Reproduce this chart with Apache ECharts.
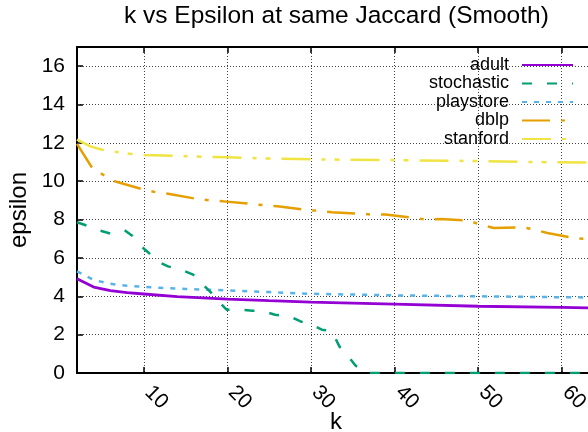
<!DOCTYPE html>
<html>
<head>
<meta charset="utf-8">
<script src="https://cdn.jsdelivr.net/npm/echarts@6/dist/echarts.min.js"></script>
<style>html,body{margin:0;padding:0;background:#fff;}#c{width:588px;height:432px;}</style>
</head>
<body>
<div id="c"></div>
<script>
var seriesNames = ['adult', 'stochastic', 'playstore', 'dblp', 'stanford'];

var adultK = [2, 4, 6, 8, 10, 14, 20, 25, 30, 40, 50, 60, 64];
var adultV = [4.92, 4.48, 4.3, 4.19, 4.12, 3.98, 3.85, 3.77, 3.70, 3.59, 3.48, 3.42, 3.39];

var stochK = [2, 3.2, 4.8, 6, 7.7, 8.6, 9.7, 10.5, 11.7, 12.9, 14.7, 15.9, 17.1, 17.9, 19.1, 19.9, 21.5, 23, 24.5, 25.7, 27.5, 28.7, 30.3, 31.3, 32.5, 33.4, 34.6, 35.3, 36.5, 64];
var stochV = [7.86, 7.68, 7.42, 7.27, 7.45, 7.16, 6.6, 6.3, 5.8, 5.56, 5.34, 5.13, 4.6, 4.26, 3.67, 3.3, 3.3, 3.25, 3.2, 3.04, 2.95, 2.7, 2.47, 2.26, 2.2, 1.39, 0.8, 0.4, 0, 0];

var playK = [2, 4, 6, 8, 10, 15, 20, 25, 30, 40, 50, 60, 64];
var playV = [5.3, 4.85, 4.65, 4.55, 4.49, 4.38, 4.31, 4.22, 4.13, 4.05, 4.0, 3.95, 3.94];

var dblpK = [2, 3.95, 5.1, 6.5, 10, 11.5, 12.9, 16.3, 17.9, 19.5, 22.9, 24.5, 26, 29.9, 30.9, 32.5, 35.9, 37.3, 38.9, 42.5, 43.9, 45.5, 48.7, 50.3, 51.9, 55.3, 56.7, 58.3, 61.5, 63, 64];
var dblpV = [11.95, 10.6, 10.35, 10.0, 9.56, 9.42, 9.35, 9.08, 9.0, 8.95, 8.82, 8.74, 8.69, 8.48, 8.47, 8.38, 8.31, 8.26, 8.26, 8.08, 8.0, 8.03, 7.96, 7.74, 7.56, 7.6, 7.48, 7.3, 7.04, 6.99, 6.97];

var stanK = [2, 3.6, 5, 6.95, 8.5, 10, 15.3, 20, 23.5, 30, 40, 48.5, 56.9, 64];
var stanV = [12.17, 11.82, 11.64, 11.51, 11.42, 11.37, 11.3, 11.25, 11.2, 11.14, 11.1, 11.06, 11.0, 10.98];

var titleText = 'k vs Epsilon at same Jaccard (Smooth)';
var xName = 'k';
var yName = 'epsilon';

function pairs(ks, vs) { return ks.map(function (k, i) { return [k, vs[i]]; }); }

var colors = ['#9400d3', '#009e73', '#56b4e9', '#e69f00', '#f0e442'];
var dashes = ['solid', [10, 15], [5, 7], [28, 11, 4, 11], [29, 11, 4, 9, 5, 11]];
var widths = [2.8, 2.5, 2.5, 2.5, 2.5];
var dataSets = [pairs(adultK, adultV), pairs(stochK, stochV), pairs(playK, playV), pairs(dblpK, dblpV), pairs(stanK, stanV)];

var FONT = 'Liberation Sans, Arial, sans-serif';

var chart = echarts.init(document.getElementById('c'), null, { renderer: 'canvas' });
chart.setOption({
  animation: false,
  backgroundColor: '#ffffff',
  title: {
    text: titleText,
    left: 119,
    top: -1,
    textStyle: { fontFamily: FONT, fontSize: 24.5, fontWeight: 'normal', color: '#000' }
  },
  legend: {
    orient: 'vertical',
    right: 9,
    top: 51,
    align: 'right',
    itemWidth: 51,
    itemHeight: 14,
    itemGap: 0.5,
    itemStyle: { color: 'rgba(0,0,0,0)', borderWidth: 0, opacity: 0 },
    textStyle: { fontFamily: FONT, fontSize: 18, color: '#000', lineHeight: 18, padding: [0, 8, 0, 0] },
    data: seriesNames
  },
  grid: { left: 77, top: 47, width: 518, height: 326, containLabel: false, outerBoundsMode: 'none' },
  xAxis: [{
    type: 'value',
    min: 2, max: 64,
    splitNumber: 6,
    name: xName,
    nameLocation: 'middle',
    nameGap: 37,
    nameMoveOverlap: false,
    nameTextStyle: { fontFamily: FONT, fontSize: 24, color: '#000' },
    axisLine: { show: true, lineStyle: { color: '#000', width: 2 } },
    axisTick: { show: true, inside: true, length: 6, lineStyle: { color: '#000', width: 1.5 } },
    axisLabel: { fontFamily: FONT, fontSize: 21, color: '#000', rotate: -45, margin: 12, padding: [0, 0, 0, 6], showMinLabel: false, showMaxLabel: false },
    splitLine: { show: true, lineStyle: { color: '#444', width: 1, type: [1, 2] } }
  }, {
    type: 'value',
    position: 'top',
    min: 2, max: 64,
    splitNumber: 6,
    axisLine: { show: true, lineStyle: { color: '#000', width: 2 } },
    axisTick: { show: true, inside: true, length: 6, lineStyle: { color: '#000', width: 1.5 } },
    axisLabel: { show: false },
    splitLine: { show: false }
  }],
  yAxis: {
    type: 'value',
    min: 0, max: 17,
    interval: 2,
    name: yName,
    nameLocation: 'middle',
    nameGap: 46,
    nameRotate: 90,
    nameMoveOverlap: false,
    nameTextStyle: { fontFamily: FONT, fontSize: 24, color: '#000' },
    axisLine: { show: true, lineStyle: { color: '#000', width: 2 } },
    axisTick: { show: true, inside: true, length: 6, lineStyle: { color: '#000', width: 1.5 } },
    axisLabel: { fontFamily: FONT, fontSize: 21, color: '#000', margin: 12, showMaxLabel: false },
    splitLine: { show: true, lineStyle: { color: '#444', width: 1, type: [1, 2] } }
  },
  series: seriesNames.map(function (n, i) {
    return {
      name: n,
      type: 'line',
      data: dataSets[i],
      symbol: 'none',
      showSymbol: false,
      smooth: false,
      color: colors[i],
      lineStyle: { color: colors[i], width: widths[i], type: dashes[i] },
      z: 2 + (4 - i)
    };
  })
});
</script>
</body>
</html>
